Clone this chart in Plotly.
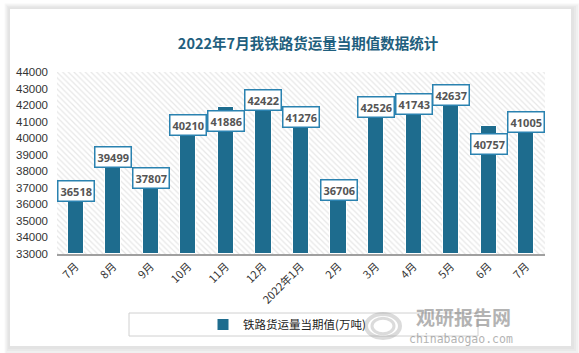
import plotly.graph_objects as go

# ---- data ----
months = ["7月", "8月", "9月", "10月", "11月", "12月", "2022年1月",
          "2月", "3月", "4月", "5月", "6月", "7月"]
freight = [36518, 39499, 37807, 40210, 41886, 42422, 41276,
           36706, 42526, 41743, 42637, 40757, 41005]
series_name = "铁路货运量当期值(万吨)"
title_text = "2022年7月我铁路货运量当期值数据统计"
y_ticks = list(range(33000, 44001, 1000))

# label vertical offsets (px), style only
label_shift = [5, -11, -4, 10, -14, -2, 0, 3, -11, 5, 0, -18, 0]

W, H = 579, 353
ML, MR, MT, MB = 57, 34, 72, 99
PW, PH = W - ML - MR, H - MT - MB
BAR = "#1E6C8E"
xs = list(range(len(months)))


def px(xp):
    return (xp - ML) / PW


def py(yp):
    return (H - MB - yp) / PH


fig = go.Figure()

# hatched plot background
fig.add_trace(go.Bar(
    x=[(len(months) - 1) / 2], y=[y_ticks[-1] - y_ticks[0]], base=[y_ticks[0]],
    width=[len(months)], showlegend=False, hoverinfo="skip",
    marker=dict(color="white", line=dict(width=0),
                pattern=dict(shape="\\", fgcolor="#cfcfcf", bgcolor="white",
                             size=4, solidity=0.3)),
))

fig.add_trace(go.Bar(
    x=xs, y=[v - y_ticks[0] for v in freight], base=[y_ticks[0]] * len(freight),
    width=0.43, name=series_name,
    marker=dict(color=BAR, line=dict(color="white", width=1)),
    hovertext=[str(v) for v in freight], hoverinfo="text",
))

for i, v in enumerate(freight):
    fig.add_annotation(
        x=i, y=v, yshift=label_shift[i], text=str(v), showarrow=False,
        font=dict(family="Noto Sans, DejaVu Sans", size=11, color="#555555", weight="bold"),
        bgcolor="white", bordercolor="#2A82B0", borderwidth=1.5, borderpad=2,
    )

shapes = []
# card shadow
for pad, col in [(9, "#f7f7f7"), (7, "#f0f0f0"), (5, "#e9e9e9"), (3, "#e3e3e3")]:
    shapes.append(dict(type="rect", xref="paper", yref="paper",
                       x0=px(10 - pad * 0.6), x1=px(571 + pad),
                       y0=py(346 + pad), y1=py(9 - pad * 0.6),
                       fillcolor=col, line=dict(width=0), layer="below"))
shapes.append(dict(type="rect", xref="paper", yref="paper",
                   x0=px(10), x1=px(571), y0=py(346), y1=py(9),
                   fillcolor="white", line=dict(width=0), layer="below"))
# legend box
shapes.append(dict(type="rect", xref="paper", yref="paper",
                   x0=px(129), x1=px(478), y0=py(336), y1=py(313),
                   fillcolor="rgba(0,0,0,0)", line=dict(color="#d0d0d0", width=1),
                   layer="below"))
# watermark swirl
for r, wdt in [(17, 4), (11, 3)]:
    shapes.append(dict(type="circle", xref="paper", yref="paper",
                       x0=px(383 - r), x1=px(383 + r), y0=py(326 + r * 0.7), y1=py(326 - r * 0.7),
                       fillcolor="rgba(0,0,0,0)", opacity=0.35,
                       line=dict(color="#9a9a9a", width=wdt)))

# watermark
fig.add_annotation(xref="paper", yref="paper", x=px(463), y=py(316),
                   xanchor="center", yanchor="middle",
                   text="<b>观研报告网</b>", showarrow=False, opacity=0.5,
                   font=dict(family="Noto Sans CJK SC", size=19, color="#6a6a6a"))
fig.add_annotation(xref="paper", yref="paper", x=px(461), y=py(339),
                   xanchor="center", yanchor="middle",
                   text="chinabaogao.com", showarrow=False, opacity=0.5,
                   font=dict(family="DejaVu Sans Mono", size=11.5, color="#6a6a6a"))

fig.update_layout(
    width=W, height=H,
    margin=dict(l=ML, r=MR, t=MT, b=MB),
    paper_bgcolor="white", plot_bgcolor="rgba(0,0,0,0)",
    barmode="overlay", bargap=0,
    shapes=shapes,
    title=dict(text="<b>" + title_text + "</b>", x=308 / W, xanchor="center",
               y=1 - 44 / H, yanchor="middle", xref="container", yref="container",
               font=dict(family="Noto Sans CJK SC", size=14.5, color="#1F5F7E")),
    font=dict(family="Noto Sans CJK SC", size=11, color="#333333"),
    xaxis=dict(range=[-0.5, len(months) - 0.5], tickvals=xs, ticktext=months,
               tickangle=-45, showgrid=False, zeroline=False,
               showline=True, linecolor="#a0a0a0", linewidth=1.5, ticks="",
               tickfont=dict(family="Noto Sans CJK SC", size=11, color="#333333")),
    yaxis=dict(range=[y_ticks[0], y_ticks[-1]], tickvals=y_ticks,
               ticktext=[str(t) for t in y_ticks],
               showgrid=False, zeroline=False, showline=False, ticks="",
               ticklabelstandoff=8,
               tickfont=dict(family="Liberation Sans", size=11.5, color="#333333")),
    legend=dict(orientation="h", x=px(203), y=py(324.5), xanchor="left",
                yanchor="middle", bgcolor="rgba(0,0,0,0)",
                font=dict(family="Noto Sans CJK SC", size=11.5, color="#222222"),
                itemwidth=30),
    showlegend=True,
)

fig.write_html("out.html")
